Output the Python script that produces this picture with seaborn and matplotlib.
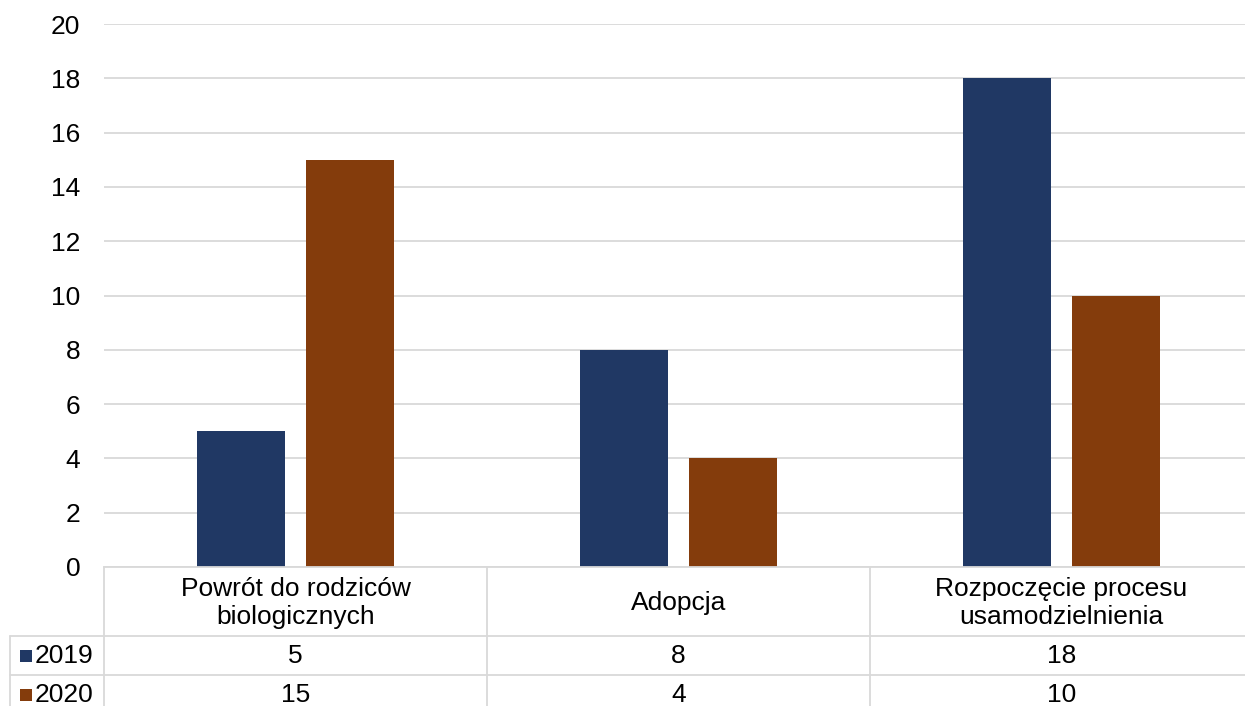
import numpy as np
import pandas as pd
import seaborn as sns
import matplotlib.pyplot as plt
from matplotlib.patches import Rectangle

# data
categories = ['Powrót do rodziców\nbiologicznych', 'Adopcja', 'Rozpoczęcie procesu\nusamodzielnienia']
years = ['2019', '2020']
values_2019 = [5, 8, 18]
values_2020 = [15, 4, 10]
colors = ['#203864', '#843C0C']

df = pd.DataFrame({
    'kategoria': categories * 2,
    'rok': [years[0]] * 3 + [years[1]] * 3,
    'wartosc': values_2019 + values_2020,
})

sns.set_style('white')
plt.rcParams['font.family'] = ['Liberation Sans', 'DejaVu Sans']
plt.rcParams['text.color'] = 'black'
plt.rcParams['xtick.labelcolor'] = 'black'
plt.rcParams['ytick.labelcolor'] = 'black'
FS = 19

W, H = 1245, 706
fig = plt.figure(figsize=(W / 100, H / 100), dpi=100)
# plot area runs slightly past the right edge of the image, as in the original
left_px, right_px, top_px, bottom_px = 104, 1253, 24, 567
ax = fig.add_axes([left_px / W, 1 - bottom_px / H, (right_px - left_px) / W, (bottom_px - top_px) / H])

sns.barplot(data=df, x='kategoria', y='wartosc', hue='rok', palette=colors,
            width=0.571, gap=0.2, ax=ax, legend=False, saturation=1, linewidth=0)

grid_c = '#D9D9D9'
ax.set_ylim(0, 20)
ax.set_xlim(-0.5, 2.5)
ax.set_yticks(range(0, 21, 2))
ax.yaxis.grid(True, color=grid_c, lw=1.3)
ax.set_axisbelow(True)
for s in ['top', 'right', 'left']:
    ax.spines[s].set_visible(False)
ax.spines['bottom'].set_color(grid_c)
ax.spines['bottom'].set_linewidth(1.3)
ax.tick_params(axis='y', length=0, labelsize=FS, pad=17)
# category labels sit vertically centred in the table header row
ax.tick_params(axis='x', length=0, labelsize=FS, pad=26)
for lbl in ax.get_xticklabels():
    lbl.set_verticalalignment('center')
    lbl.set_multialignment('center')
ax.set_xlabel('')
ax.set_ylabel('')

# data table below the axis
ax_h = bottom_px - top_px
ax_w = right_px - left_px
def ay(py):
    return -(py - bottom_px) / ax_h
def axx(px):
    return (px - left_px) / ax_w

tr = ax.transAxes
line_kw = dict(color=grid_c, lw=1.3, transform=tr, clip_on=False)
for py in [636, 675]:
    ax.plot([axx(10), 1], [ay(py), ay(py)], **line_kw)
ax.plot([0, 0], [0, ay(720)], **line_kw)
ax.plot([axx(10), axx(10)], [ay(636), ay(720)], **line_kw)
for k in [1, 2]:
    ax.plot([k / 3, k / 3], [0, ay(720)], **line_kw)

row_centers = [656, 695]
xtr = ax.get_xaxis_transform()
for r, (yr, vals) in enumerate(zip(years, [values_2019, values_2020])):
    yc = ay(row_centers[r])
    sq = 12
    fig.patches.append(Rectangle((20 / W, 1 - (row_centers[r] + sq / 2) / H), sq / W, sq / H,
                                 transform=fig.transFigure, color=colors[r], lw=0))
    ax.text(axx(35), yc, yr, fontsize=FS, va='center', ha='left', transform=tr, clip_on=False)
    for i, v in enumerate(vals):
        ax.text(i, yc, str(v), fontsize=FS, va='center', ha='center', transform=xtr, clip_on=False)

fig.savefig('out.png', dpi=100)
